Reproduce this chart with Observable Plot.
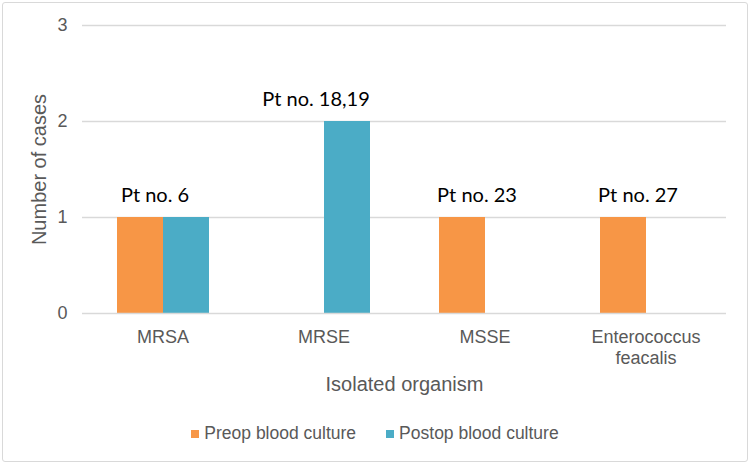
<!DOCTYPE html>
<html><head><meta charset="utf-8">
<script src="https://cdn.jsdelivr.net/npm/d3@7"></script>
<script src="https://cdn.jsdelivr.net/npm/@observablehq/plot@0.6"></script>
<style>
body{margin:0;background:#fff;width:750px;height:465px;overflow:hidden;}
#frame{position:absolute;left:2px;top:2px;width:746px;height:460px;box-sizing:border-box;border:1.5px solid #d9d9d9;border-radius:3px;}
#chart{position:absolute;left:0;top:0;}
#legend{position:absolute;top:423px;left:0;width:750px;display:flex;justify-content:center;gap:30px;font-family:"Liberation Sans",Arial,sans-serif;font-size:17.5px;color:#595959;}
#legend .item{display:flex;align-items:center;}
#legend .sw{width:8px;height:8px;margin-right:5px;display:inline-block;}
</style></head>
<body>
<div id="frame"></div>
<div id="chart"></div>
<div id="legend"></div>
<script>
const categories = ["MRSA", "MRSE", "MSSE", "Enterococcus feacalis"];
const series = ["Preop blood culture", "Postop blood culture"];
const preop = [1, 0, 1, 1];
const postop = [1, 2, 0, 0];
const ptLabels = ["Pt no. 6", "Pt no. 18,19", "Pt no. 23", "Pt no. 27"];
const yTicks = [0, 1, 2, 3];
const colors = ["#F79646", "#4BACC6"];

const rows = [];
categories.forEach((c, i) => {
  rows.push({category: c, series: series[0], value: preop[i]});
  rows.push({category: c, series: series[1], value: postop[i]});
});
const labelRows = categories.map((c, i) => ({category: c, label: ptLabels[i], value: Math.max(preop[i], postop[i])}));

const chart = Plot.plot({
  width: 750, height: 415,
  marginLeft: 81, marginRight: 24, marginTop: 25, marginBottom: 102,
  style: {fontFamily: "'Liberation Sans', Arial, sans-serif", fontSize: "18px", color: "#595959", background: "transparent"},
  fx: {domain: categories, padding: 0},
  x: {domain: series, paddingInner: 0, paddingOuter: 0.75, axis: null},
  y: {domain: [0, 3]},
  color: {domain: series, range: colors},
  marks: [
    Plot.gridY(yTicks.slice(1), {stroke: "#d9d9d9", strokeOpacity: 1, strokeWidth: 1.3}),
    Plot.axisY(yTicks, {tickSize: 0, tickPadding: 15, fontSize: 18, fill: "#595959", tickFormat: d => String(d), label: null}),
    Plot.axisY([], {fontSize: 20, fill: "#595959",
      label: "Number of cases", labelAnchor: "center", labelArrow: "none", labelOffset: 51}),
    Plot.axisFx({anchor: "bottom", tickSize: 0, tickPadding: 14, fontSize: 18, fill: "#595959", lineHeight: 1.18,
      tickFormat: d => d.replace(" ", "\n"), label: null}),
    Plot.axisFx([], {anchor: "bottom", fontSize: 20, fill: "#595959",
      label: "Isolated organism", labelAnchor: "center", labelArrow: "none", labelOffset: 77}),
    Plot.barY(rows, {fx: "category", x: "series", y: "value", fill: "series"}),
    Plot.ruleY([0], {stroke: "#d9d9d9", strokeWidth: 1.3}),
    Plot.text(labelRows, {fx: "category", y: "value", text: "label", dx: -8, dy: -16, lineAnchor: "bottom",
      fontFamily: "Lato, 'Open Sans', sans-serif", fontSize: 20, fill: "#000"})
  ]
});
document.getElementById("chart").appendChild(chart);

const legend = document.getElementById("legend");
series.forEach((s, i) => {
  const it = document.createElement("div");
  it.className = "item";
  const sw = document.createElement("span");
  sw.className = "sw";
  sw.style.background = colors[i];
  it.appendChild(sw);
  it.appendChild(document.createTextNode(s));
  legend.appendChild(it);
});
</script>
</body></html>
